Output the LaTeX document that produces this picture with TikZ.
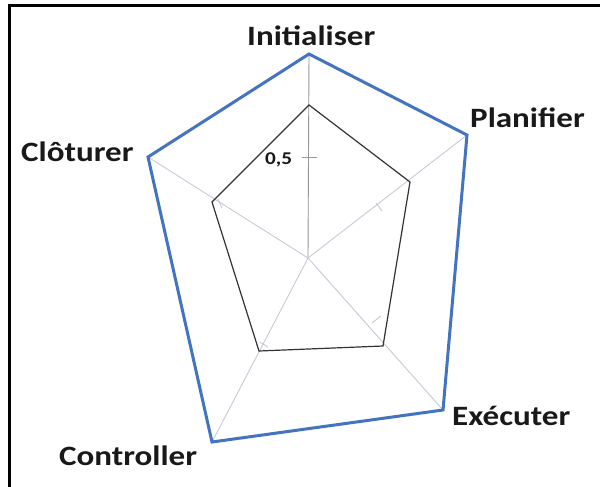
\documentclass[tikz,border=0pt]{standalone}
\usepackage{fontspec}
\setmainfont{Carlito}
\definecolor{outerblue}{RGB}{68,116,192}
\definecolor{axisgray}{RGB}{200,202,215}
\definecolor{axisdark}{RGB}{150,150,155}
\definecolor{txt}{RGB}{25,25,25}
\begin{document}
\begin{tikzpicture}[x=1pt,y=-1pt,
  lbl/.style={anchor=base west,inner sep=0pt,text=txt,font=\fontsize{28}{30}\selectfont\bfseries},
  ticklbl/.style={anchor=base west,inner sep=0pt,text=txt,font=\fontsize{18}{20}\selectfont\bfseries},
  axisline/.style={draw=axisgray,line width=0.9pt},
  outerpoly/.style={draw=outerblue,line width=3pt,line join=miter},
  innerpoly/.style={draw=black!80,line width=1.2pt,line join=miter},
  frameline/.style={draw=black,line width=3pt}]
\useasboundingbox (0,0) rectangle (600,487);
\fill[white] (0,0) rectangle (600,487);
\draw[frameline] (9,6) rectangle (615,500);
% coordinates
\coordinate (O) at (308,258);
\coordinate (oI) at (309,54);
\coordinate (oP) at (467,135);
\coordinate (oE) at (443,410);
\coordinate (oC) at (212,442);
\coordinate (oL) at (148,157);
\coordinate (iI) at (309,105);
\coordinate (iP) at (410,182);
\coordinate (iE) at (383,346);
\coordinate (iC) at (259,351);
\coordinate (iL) at (212,202);
% axes
\draw[axisline,draw=axisdark] (O) -- (oI);
\draw[axisline] (O) -- (oP);
\draw[axisline] (O) -- (oE);
\draw[axisline] (O) -- (oC);
\draw[axisline] (O) -- (oL);
% ticks
\coordinate (t1a) at (302,157); \coordinate (t1b) at (317,157);
\draw[axisline,draw=axisdark] (t1a) -- (t1b);
\coordinate (t2a) at (376,203); \coordinate (t2b) at (382,211);
\draw[axisline] (t2a) -- (t2b);
\coordinate (t3a) at (372,323); \coordinate (t3b) at (381,316);
\draw[axisline] (t3a) -- (t3b);
\coordinate (t4a) at (260,342); \coordinate (t4b) at (268,347);
\draw[axisline] (t4a) -- (t4b);
\coordinate (t5a) at (218,199); \coordinate (t5b) at (222,208);
\draw[axisline] (t5a) -- (t5b);
% polygons
\draw[innerpoly] (iI) -- (iP) -- (iE) -- (iC) -- (iL) -- cycle;
\draw[outerpoly] (oI) -- (oP) -- (oE) -- (oC) -- (oL) -- cycle;
% labels
\node[lbl] (nI) at (247,46) {\scalebox{1.18}[1]{Initialiser}};
\node[lbl] (nP) at (470,127) {\scalebox{1.18}[1]{Planifier}};
\node[lbl] (nE) at (452,425) {\scalebox{1.18}[1]{Exécuter}};
\node[lbl] (nC) at (59,465) {\scalebox{1.18}[1]{Controller}};
\node[lbl] (nL) at (21,161) {\scalebox{1.18}[1]{Clôturer}};
\node[ticklbl] (n05) at (265,164) {\scalebox{1.18}[1]{0,5}};
\end{tikzpicture}
\end{document}
